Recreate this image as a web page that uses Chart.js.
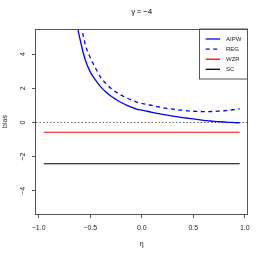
<!DOCTYPE html>
<html>
<head>
<meta charset="utf-8">
<script src="https://cdn.jsdelivr.net/npm/chart.js@4/dist/chart.umd.min.js"></script>
<style>
  html, body { margin: 0; padding: 0; background: #fff; }
  #wrap { width: 266px; height: 253px; }
</style>
</head>
<body>
<div id="wrap"><canvas id="c" width="266" height="253"></canvas></div>
<script>
// ---- data ----
const titleText = "\u03B3\u2009=\u2009\u22124";
const xLabel = "\u03B7";
const yLabel = "bias";
const seriesNames = ["AIPW", "REG", "WZR", "SC"];

const eta = [-0.95,-0.90,-0.85,-0.80,-0.75,-0.70,-0.65,-0.60,-0.55,-0.50,-0.45,-0.40,-0.35,-0.30,-0.25,-0.20,-0.15,-0.10,-0.05,0.00,
             0.05,0.10,0.15,0.20,0.25,0.30,0.35,0.40,0.45,0.50,0.55,0.60,0.65,0.70,0.75,0.80,0.85,0.90,0.95];
const aipw = [null,null,null,null,null,null,6.4,4.9,3.7,2.96,2.5,2.1,1.8,1.55,1.35,1.17,1.02,0.9,0.79,0.72,
              0.66,0.6,0.54,0.48,0.43,0.38,0.33,0.29,0.25,0.21,0.17,0.13,0.1,0.07,0.05,0.03,0.01,0.0,-0.02];
const reg  = [null,null,null,null,null,null,null,6.1,4.6,3.8,3.2,2.65,2.3,2.0,1.78,1.6,1.45,1.32,1.2,1.12,
              1.05,1.0,0.93,0.87,0.82,0.78,0.74,0.71,0.68,0.66,0.65,0.64,0.64,0.65,0.67,0.69,0.72,0.76,0.8];
const etaFlat = [-0.95, 0.95];
const wzr = [-0.57, -0.57];
const sc  = [-2.41, -2.41];

const xTicks = [-1.0, -0.5, 0.0, 0.5, 1.0];
const xTickLabels = ["\u22121.0", "\u22120.5", "0.0", "0.5", "1.0"];
const yTicks = [-4, -2, 0, 2, 4];
const yTickLabels = ["\u22124", "\u22122", "0", "2", "4"];
const xRange = [-1.026, 1.026];
const yRange = [-5.35, 5.47];

const colors = ["#0000ff", "#0000ff", "#ff0000", "#000000"];
const dashes = [[], [4, 3.5], [], []];
const widths = [1.3, 1.3, 1.1, 1.1];

const FONT = "'Liberation Sans', Arimo, Helvetica, Arial, sans-serif";
const frameColor = "#555555";

function pts(xs, ys) { return xs.map((x, i) => ({ x: x, y: ys[i] })); }

const framePlugin = {
  id: 'frameAndLegend',
  afterDatasetsDraw(chart) {
    const { ctx, chartArea: a } = chart;
    ctx.save();
    // legend box (top-right inside the plot)
    const lx = 199.5, ly = a.top, lw = a.right - 199.5, lh = 50;
    ctx.fillStyle = "#ffffff";
    ctx.fillRect(lx, ly, lw, lh);
    ctx.strokeStyle = frameColor;
    ctx.lineWidth = 1;
    ctx.strokeRect(lx, ly, lw, lh);
    chart.data.datasets.forEach((ds, i) => {
      const y = ly + 10 + i * 10.1;
      ctx.beginPath();
      ctx.setLineDash(ds.borderDash || []);
      ctx.strokeStyle = ds.borderColor;
      ctx.lineWidth = 1.3;
      ctx.moveTo(205.7, y);
      ctx.lineTo(220, y);
      ctx.stroke();
      ctx.setLineDash([]);
      ctx.fillStyle = "#222";
      ctx.font = "6px " + FONT;
      ctx.textBaseline = "middle";
      ctx.textAlign = "left";
      ctx.fillText(ds.label, 226, y);
    });
    // plot frame
    ctx.strokeStyle = frameColor;
    ctx.lineWidth = 1;
    ctx.strokeRect(Math.round(a.left) + 0.5 - 1, Math.round(a.top) + 0.5, Math.round(a.right - a.left), Math.round(a.bottom - a.top));
    ctx.restore();
  }
};

new Chart(document.getElementById('c'), {
  type: 'line',
  data: {
    datasets: [
      { label: seriesNames[0], data: pts(eta, aipw), borderColor: colors[0], borderDash: dashes[0], borderWidth: widths[0] },
      { label: seriesNames[1], data: pts(eta, reg), borderColor: colors[1], borderDash: dashes[1], borderWidth: widths[1] },
      { label: seriesNames[2], data: pts(etaFlat, wzr), borderColor: colors[2], borderDash: dashes[2], borderWidth: widths[2] },
      { label: seriesNames[3], data: pts(etaFlat, sc), borderColor: colors[3], borderDash: dashes[3], borderWidth: widths[3] }
    ].map(d => Object.assign(d, { pointRadius: 0, fill: false, cubicInterpolationMode: 'monotone', spanGaps: false }))
  },
  options: {
    responsive: false,
    animation: false,
    devicePixelRatio: 1,
    layout: { padding: { left: 0, right: 18.5, top: 0, bottom: 0 } },
    plugins: {
      legend: { display: false },
      tooltip: { enabled: false },
      title: {
        display: true, text: titleText, fullSize: false, color: "#000",
        font: { family: FONT, size: 8, weight: 'normal', lineHeight: 1.2 },
        padding: { top: 7, bottom: 12.4 }
      }
    },
    scales: {
      x: {
        type: 'linear', min: xRange[0], max: xRange[1],
        afterBuildTicks: s => { s.ticks = xTicks.map(v => ({ value: v })); },
        afterFit: s => { s.height = 39; },
        ticks: {
          autoSkip: false, maxRotation: 0, minRotation: 0, padding: 5.5, color: "#222",
          font: { family: FONT, size: 7 },
          callback: (v) => { const i = xTicks.indexOf(v); return i >= 0 ? xTickLabels[i] : ''; }
        },
        grid: { drawOnChartArea: false, drawTicks: true, tickLength: 4, tickColor: frameColor, tickWidth: 1 },
        border: { display: false },
        title: { display: true, text: xLabel, color: "#222", font: { family: FONT, size: 7 }, padding: { top: 0, bottom: 5 } }
      },
      y: {
        type: 'linear', min: yRange[0], max: yRange[1],
        afterBuildTicks: s => { s.ticks = yTicks.map(v => ({ value: v })); },
        afterFit: s => { s.width = 36; },
        ticks: {
          autoSkip: false, minRotation: 90, maxRotation: 90, crossAlign: 'center', padding: 5, color: "#222",
          font: { family: FONT, size: 7 },
          callback: (v) => { const i = yTicks.indexOf(v); return i >= 0 ? yTickLabels[i] : ''; }
        },
        grid: {
          drawOnChartArea: true, drawTicks: true, tickLength: 4, tickWidth: 1, tickColor: frameColor,
          color: c => (c.tick && c.tick.value === 0) ? "#666666" : "rgba(0,0,0,0)",
          lineWidth: 1
        },
        border: { display: false, dash: [1.5, 2] },
        title: { display: true, text: yLabel, color: "#222", font: { family: FONT, size: 7 }, padding: { top: 1, bottom: 0 } }
      }
    }
  },
  plugins: [framePlugin]
});
</script>
</body>
</html>
